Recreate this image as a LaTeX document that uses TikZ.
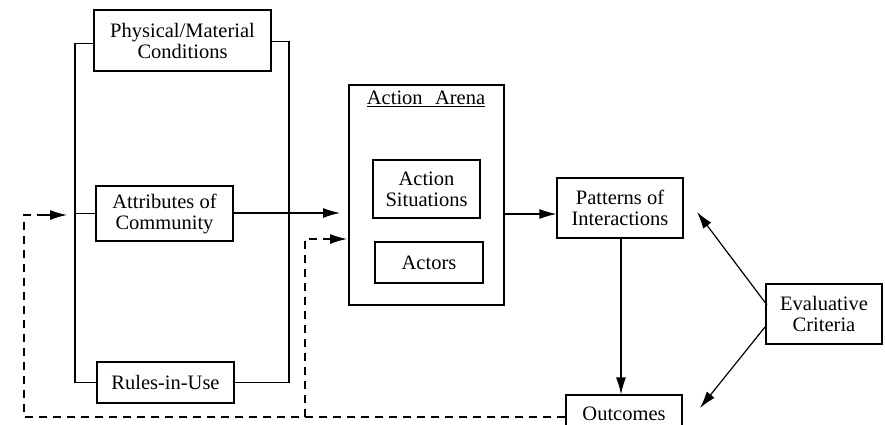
\documentclass[tikz,border=0pt]{standalone}
\usepackage{fontspec}
\setmainfont{Liberation Serif}
\usetikzlibrary{arrows.meta}
\begin{document}
\begin{tikzpicture}[x=1pt,y=1pt,
  box/.style={draw,line width=1.2pt,rectangle,inner sep=0pt,align=center,
    font=\fontsize{20.5}{21}\selectfont},
  conn/.style={line width=1.2pt},
  arr/.style={line width=1.2pt,-{Latex[length=17pt,width=10pt]}},
  fb/.style={line width=1.2pt,dash pattern=on 8pt off 6pt}]
\useasboundingbox (0,0) rectangle (885,424);
\clip (0,0) rectangle (885,424);
% nodes
\node[box,minimum width=177pt,minimum height=61pt] (phys) at (182.5,383.5) {Physical/Material\\Conditions};
\node[box,minimum width=137pt,minimum height=55pt] (attr) at (164.5,210.5) {Attributes of\\Community};
\node[box,minimum width=137pt,minimum height=41pt] (rules) at (165.5,41.5) {Rules-in-Use};
\node[box,minimum width=155pt,minimum height=220pt] (arena) at (426.5,229) {};
\node[font=\fontsize{20.5}{21}\selectfont,inner sep=0pt] (title) at (426,325) {\underline{Action\hspace{0.6em}Arena}};
\node[box,minimum width=107pt,minimum height=58pt] (sit) at (426.5,235) {Action\\Situations};
\node[box,minimum width=108pt,minimum height=41pt] (actors) at (429,161.5) {Actors};
\node[box,minimum width=126pt,minimum height=60pt] (pat) at (620,216) {Patterns of\\Interactions};
\node[box,minimum width=116pt,minimum height=60pt] (eval) at (824,110) {Evaluative\\Criteria};
\node[box,minimum width=116pt,minimum height=37pt,text depth=0pt] (out) at (624,10.5) {Outcomes};
% bus coordinates
\coordinate (lbus) at (75,0);
\coordinate (rbus) at (289,0);
\coordinate (ain) at (340,211);
\coordinate (ain2) at (347,185);
% left bracket
\draw[conn] ([yshift=-3pt]phys.west) -- ([yshift=-3pt]phys.west -| lbus) |- (rules.west);
\draw[conn] ([yshift=-1pt]phys.east) -- ([yshift=-1pt]phys.east -| rbus) |- (rules.east);
\draw[conn] (attr.west) -- (attr.west -| lbus);
% main arrows
\draw[arr] (attr.east |- ain) -- (ain);
\draw[arr] (arena.east |- 0,210) -- (pat.west |- 0,210);
\draw[arr] (621,0 |- pat.south) -- (621,0 |- out.north);
\coordinate (e1) at (767,119);
\coordinate (e2) at (765,97);
\draw[arr] (e1) -- (697,212);
\draw[arr] (e2) -- (700,16);
% feedback
\coordinate (fbl) at (24,7);
\coordinate (fbm) at (305,7);
\draw[fb] (out.west |- fbl) -- (fbl) -- (24,209) -- (46,209);
\draw[arr] (45,209) -- (67,209);
\draw[fb] (fbm) -- (305,185) -- (325,185);
\draw[arr] (324,185) -- (ain2);
\end{tikzpicture}
\end{document}
